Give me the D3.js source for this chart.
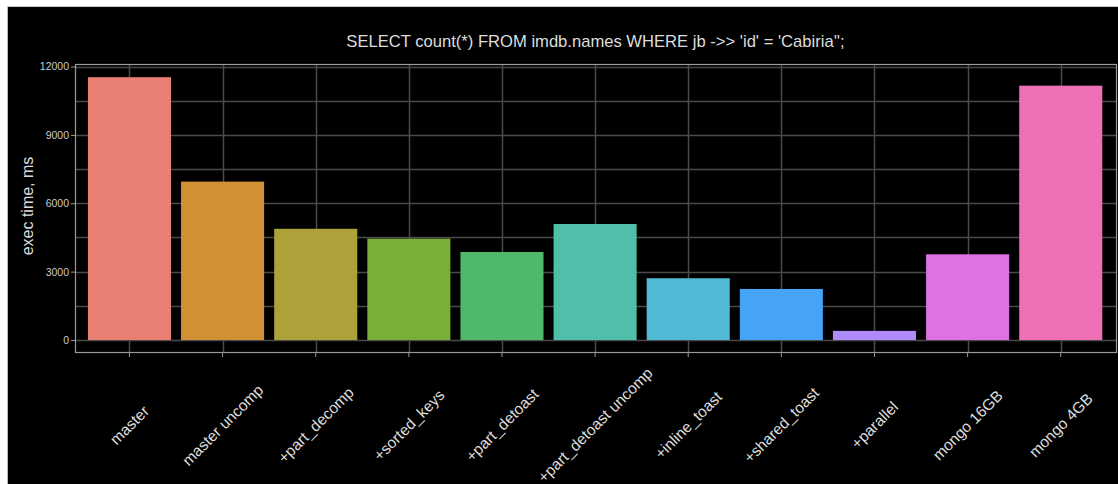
<!DOCTYPE html>
<html>
<head>
<meta charset="utf-8">
<script src="https://cdn.jsdelivr.net/npm/d3@7"></script>
<style>
  html, body { margin: 0; padding: 0; background: #ffffff; }
  svg { display: block; }
  text { font-family: "Liberation Sans", Arial, sans-serif; }
</style>
</head>
<body>
<svg id="chart" width="1118" height="484"></svg>
<script>
const categories = ["master", "master uncomp", "+part_decomp", "+sorted_keys", "+part_detoast",
  "+part_detoast uncomp", "+inline_toast", "+shared_toast", "+parallel", "mongo 16GB", "mongo 4GB"];
const values = [11530, 6950, 4880, 4450, 3860, 5090, 2710, 2240, 400, 3760, 11160];
const colors = ["#e97f72", "#d29034", "#ada23a", "#78af38", "#50b869", "#50bfa9",
  "#4fbad6", "#45a4f7", "#ae8bf8", "#de72e2", "#ee6fb3"];
const yTicks = [0, 3000, 6000, 9000, 12000];
const yGrid = [0, 1500, 3000, 4500, 6000, 7500, 9000, 10500, 12000];
const title = "SELECT count(*) FROM imdb.names WHERE jb ->> 'id' = 'Cabiria'';";
const yLabel = "exec time, ms";

const svg = d3.select("#chart");
// background panel
svg.append("rect").attr("x", 7).attr("y", 7).attr("width", 1111).attr("height", 477).attr("fill", "#000");
svg.append("line").attr("x1", 7.5).attr("x2", 7.5).attr("y1", 6).attr("y2", 484).attr("stroke", "#bbb").attr("stroke-width", 1);
svg.append("line").attr("x1", 7).attr("x2", 1118).attr("y1", 6.5).attr("y2", 6.5).attr("stroke", "#ccc").attr("stroke-width", 1);

const pLeft = 75, pRight = 1116, pTop = 64, pBottom = 352;
const x = d3.scaleBand().domain(categories).range([82.9, 1107.3]).paddingInner(0.108).paddingOuter(0.054);
const y = d3.scaleLinear().domain([0, 12000]).range([340, 66.5]);

const g = svg.append("g");
// horizontal grid
g.selectAll("line.hg").data(yGrid).join("line")
  .attr("x1", pLeft).attr("x2", pRight)
  .attr("y1", d => Math.round(y(d)) + 0.5).attr("y2", d => Math.round(y(d)) + 0.5)
  .attr("stroke", "#4a4a4a").attr("stroke-width", 1.5);
// vertical grid
g.selectAll("line.vg").data(categories).join("line")
  .attr("x1", d => Math.round(x(d) + x.bandwidth() / 2) + 0.5)
  .attr("x2", d => Math.round(x(d) + x.bandwidth() / 2) + 0.5)
  .attr("y1", pTop).attr("y2", pBottom)
  .attr("stroke", "#4a4a4a").attr("stroke-width", 1.5);

// bars
g.selectAll("rect.bar").data(values).join("rect")
  .attr("x", (d, i) => x(categories[i]))
  .attr("width", x.bandwidth())
  .attr("y", d => y(d))
  .attr("height", d => y(0) - y(d))
  .attr("fill", (d, i) => colors[i]);

// frame
svg.append("rect").attr("x", pLeft + 0.5).attr("y", pTop + 0.5)
  .attr("width", pRight - pLeft).attr("height", pBottom - pTop)
  .attr("fill", "none").attr("stroke", "#9a9a9a").attr("stroke-width", 1.2);

// y axis ticks
const yAxis = d3.axisLeft(y).tickValues(yTicks).tickSize(4).tickPadding(2).tickFormat(d3.format("d"));
const ya = svg.append("g").attr("transform", `translate(${pLeft},0)`).call(yAxis);
ya.select(".domain").remove();
ya.selectAll(".tick line").attr("stroke", "#9a9a9a");
ya.selectAll(".tick text").attr("fill", "#cccccc").style("font-size", "10.5px").attr("font-family", "Liberation Sans, Arial, sans-serif");

// x axis ticks
const xAxis = d3.axisBottom(x).tickSize(5).tickFormat("");
const xa = svg.append("g").attr("transform", `translate(0,${pBottom})`).call(xAxis);
xa.select(".domain").remove();
xa.selectAll(".tick line").attr("stroke", "#9a9a9a");

// x labels, rotated
svg.append("g").selectAll("text").data(categories).join("text")
  .attr("transform", d => `translate(${x(d) + x.bandwidth() / 2},${425}) rotate(-45)`)
  .attr("text-anchor", "middle").attr("dominant-baseline", "central")
  .attr("fill", "#dddddd").style("font-size", "15.5px")
  .text(d => d);

// title
svg.append("text").attr("x", (pLeft + pRight) / 2).attr("y", 47)
  .attr("text-anchor", "middle").attr("fill", "#dddddd").style("font-size", "16.6px")
  .text(title);

// y label
svg.append("text").attr("transform", `translate(33,${206}) rotate(-90)`)
  .attr("text-anchor", "middle").attr("fill", "#dddddd").style("font-size", "16px")
  .text(yLabel);
</script>
</body>
</html>
